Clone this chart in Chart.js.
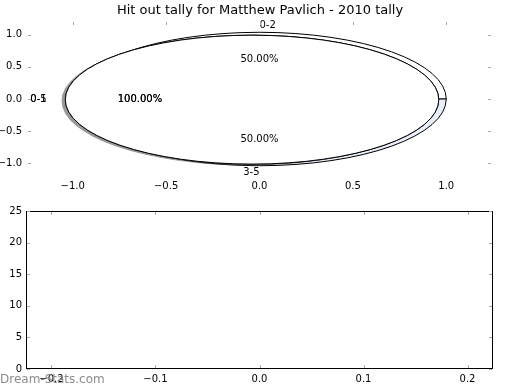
<!DOCTYPE html>
<html><head><meta charset="utf-8">
<script src="https://cdn.jsdelivr.net/npm/chart.js@4/dist/chart.umd.min.js"></script>
<style>
html,body{margin:0;padding:0;background:#fff;}
#wrap{position:relative;width:520px;height:390px;overflow:hidden;}
#top{position:absolute;left:0;top:0;}
#bot{position:absolute;left:0;top:200px;}
</style></head><body>
<div id="wrap"><canvas id="top" width="520" height="200"></canvas><canvas id="bot" width="520" height="190"></canvas></div>
<script>
const chartTitle = 'Hit out tally for Matthew Pavlich - 2010 tally';
const pieALabels = ['0-2', '3-5'];
const pieAValues = [1, 1];
const pieBLabels = ['0-1'];
const pieBValues = [1];
const pieCLabels = ['0-5'];
const pieCValues = [1];
const topXTicks = [-1.0, -0.5, 0.0, 0.5, 1.0];
const topXTickLabels = ['\u22121.0', '\u22120.5', '0.0', '0.5', '1.0'];
const topYTicks = [-1.0, -0.5, 0.0, 0.5, 1.0];
const topYTickLabels = ['\u22121.0', '\u22120.5', '0.0', '0.5', '1.0'];
const botXTicks = [-0.2, -0.1, 0.0, 0.1, 0.2];
const botXTickLabels = ['\u22120.2', '\u22120.1', '0.0', '0.1', '0.2'];
const botYTicks = [0, 5, 10, 15, 20, 25];
const botYTickLabels = ['0', '5', '10', '15', '20', '25'];
const watermarkText = 'Dream-Stats.com';

const FAM = "'DejaVu Sans', sans-serif";
const tickFont = {family: FAM, size: 10};

function setTicks(values) { return function (scale) { scale.ticks = values.map(v => ({value: v})); }; }
function tickText(labels) { return function (v, i) { return labels[i]; }; }
function fixW(w) { return function (s) { s.width = w; }; }
function fixH(h) { return function (s) { s.height = h; }; }

const innerTicks = {
  id: 'innerTicks',
  afterDraw(chart, args, o) {
    const ctx = chart.ctx, a = chart.chartArea, xs = chart.scales.x, ys = chart.scales.y;
    ctx.save();
    if (o.frame) {
      ctx.strokeStyle = '#000'; ctx.lineWidth = 1;
      ctx.strokeRect(a.left + 0.5, a.top + 0.5, a.right - a.left - 1, a.bottom - a.top - 1);
    }
    ctx.strokeStyle = o.color; ctx.lineWidth = 1;
    ctx.beginPath();
    xs.ticks.forEach(t => {
      const px = Math.round(xs.getPixelForValue(t.value)) + 0.5;
      if (o.top) { ctx.moveTo(px, a.top + 1); ctx.lineTo(px, a.top + 1 + o.len); }
      if (o.bottom) { ctx.moveTo(px, a.bottom - 1); ctx.lineTo(px, a.bottom - 1 - o.len); }
    });
    ys.ticks.forEach(t => {
      const py = Math.round(ys.getPixelForValue(t.value)) + 0.5;
      ctx.moveTo(a.left + 1, py); ctx.lineTo(a.left + 1 + o.len, py);
      ctx.moveTo(a.right - 1, py); ctx.lineTo(a.right - 1 - o.len, py);
    });
    ctx.stroke();
    if (o.watermark) {
      ctx.fillStyle = '#8c8c8c';
      ctx.font = "12px " + FAM;
      ctx.textAlign = 'left'; ctx.textBaseline = 'middle';
      ctx.fillText(o.watermark, 0, 180);
    }
    ctx.restore();
  }
};

const piesPlugin = {
  id: 'pies',
  afterDatasetsDraw(chart, args, o) {
    const ctx = chart.ctx, xs = chart.scales.x, ys = chart.scales.y;
    const texts = [];
    ctx.save();
    o.pies.forEach(p => {
      const cx = xs.getPixelForValue(p.cx), cy = ys.getPixelForValue(p.cy);
      const Rx = xs.getPixelForValue(p.cx + p.rx) - cx;
      const Ry = cy - ys.getPixelForValue(p.cy + p.ry);
      if (p.shadow) {
        const sx = xs.getPixelForValue(p.cx + p.shadow[0]), sy = ys.getPixelForValue(p.cy + p.shadow[1]);
        ctx.beginPath(); ctx.ellipse(sx, sy, Rx, Ry, 0, 0, Math.PI * 2);
        ctx.fillStyle = 'rgba(70,70,70,0.55)'; ctx.fill();
      }
      const total = p.values.reduce((s, v) => s + v, 0);
      let t1 = 0;
      p.values.forEach((v, i) => {
        const t2 = t1 + 2 * Math.PI * v / total;
        ctx.beginPath();
        if (Math.abs(t2 - t1 - 2 * Math.PI) < 1e-9) {
          ctx.ellipse(cx, cy, Rx, Ry, 0, 0, Math.PI * 2);
        } else {
          ctx.moveTo(cx, cy);
          ctx.ellipse(cx, cy, Rx, Ry, 0, -t1, -t2, true);
          ctx.closePath();
        }
        ctx.fillStyle = p.colors[i % p.colors.length]; ctx.fill();
        ctx.strokeStyle = '#000'; ctx.lineWidth = 1; ctx.stroke();
        const mid = (t1 + t2) / 2, c = Math.cos(mid), s = Math.sin(mid);
        texts.push({x: xs.getPixelForValue(p.cx + 1.1 * p.rx * c), y: ys.getPixelForValue(p.cy + 1.1 * p.ry * s),
          align: c > 0 ? 'left' : 'right', text: p.labels[i]});
        texts.push({x: xs.getPixelForValue(p.cx + 0.6 * p.rx * c), y: ys.getPixelForValue(p.cy + 0.6 * p.ry * s),
          align: 'center', text: (100 * v / total).toFixed(2) + '%'});
        t1 = t2;
      });
    });
    ctx.fillStyle = '#000'; ctx.font = "10px " + FAM; ctx.textBaseline = 'middle';
    texts.forEach(t => { ctx.textAlign = t.align; ctx.fillText(t.text, t.x, t.y); });
    ctx.restore();
  }
};

new Chart(document.getElementById('top'), {
  type: 'scatter',
  data: {datasets: []},
  options: {
    responsive: false, animation: false, devicePixelRatio: 1,
    layout: {padding: 0},
    plugins: {
      legend: {display: false}, tooltip: {enabled: false},
      title: {display: true, text: chartTitle, color: '#000', font: {family: FAM, size: 13, weight: 'normal'}, padding: {top: 2.4, bottom: 3}},
      innerTicks: {color: '#a8a8a8', len: 3, top: true, bottom: false, frame: false},
      pies: {pies: [
        {labels: pieALabels, values: pieAValues, colors: ['#ffffff', '#e8eefa'], cx: 0, cy: 0, rx: 1.0, ry: 1.035},
        {labels: pieBLabels, values: pieBValues, colors: ['#ffffff'], cx: -0.04, cy: -0.01, rx: 1.0, ry: 1.0},
        {labels: pieCLabels, values: pieCValues, colors: ['#ffffff'], cx: -0.04, cy: -0.01, rx: 1.0, ry: 1.0, shadow: [-0.02, -0.02]}
      ]}
    },
    scales: {
      x: {type: 'linear', position: 'bottom', min: -1.245, max: 1.245, afterBuildTicks: setTicks(topXTicks), afterFit: fixH(23),
          ticks: {callback: tickText(topXTickLabels), font: tickFont, color: '#000', padding: 3, maxRotation: 0, autoSkip: false},
          grid: {display: false, drawTicks: false}, border: {display: false}},
      y: {type: 'linear', position: 'left', min: -1.21, max: 1.21, afterBuildTicks: setTicks(topYTicks), afterFit: fixW(27),
          ticks: {callback: tickText(topYTickLabels), font: tickFont, color: '#000', padding: 5, autoSkip: false},
          grid: {display: false, drawTicks: false}, border: {display: false}},
      yR: {type: 'linear', position: 'right', min: 0, max: 1, afterFit: fixW(28),
          ticks: {display: false}, grid: {display: false, drawTicks: false}, border: {display: false}}
    }
  },
  plugins: [piesPlugin, innerTicks]
});

new Chart(document.getElementById('bot'), {
  type: 'scatter',
  data: {datasets: []},
  options: {
    responsive: false, animation: false, devicePixelRatio: 1,
    layout: {padding: {top: 11, left: 0, right: 0, bottom: 0}},
    plugins: {
      legend: {display: false}, tooltip: {enabled: false}, title: {display: false},
      innerTicks: {color: '#a8a8a8', len: 3, top: true, bottom: true, frame: true, watermark: watermarkText}
    },
    scales: {
      x: {type: 'linear', position: 'bottom', min: -0.2245, max: 0.2245, afterBuildTicks: setTicks(botXTicks), afterFit: fixH(21),
          ticks: {callback: tickText(botXTickLabels), font: tickFont, color: '#000', padding: 4, maxRotation: 0, autoSkip: false},
          grid: {display: false, drawTicks: false}, border: {display: false}},
      y: {type: 'linear', position: 'left', min: 0, max: 25, afterBuildTicks: setTicks(botYTicks), afterFit: fixW(26),
          ticks: {callback: tickText(botYTickLabels), font: tickFont, color: '#000', padding: 4, autoSkip: false},
          grid: {display: false, drawTicks: false}, border: {display: false}},
      yR: {type: 'linear', position: 'right', min: 0, max: 1, afterFit: fixW(27),
          ticks: {display: false}, grid: {display: false, drawTicks: false}, border: {display: false}}
    }
  },
  plugins: [innerTicks]
});
</script>
</body></html>
